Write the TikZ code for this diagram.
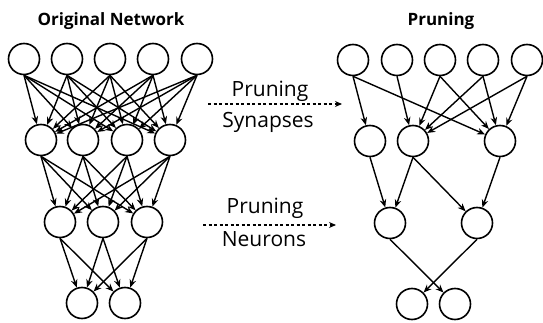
\documentclass[tikz,border=0pt]{standalone}
\usepackage{fontspec}
\setmainfont{Open Sans}
\usetikzlibrary{arrows.meta,positioning}

\begin{document}
\begin{tikzpicture}[x=1pt,y=1pt]
                \tikzstyle{every node}+=[inner sep=0pt]
                \tikzstyle{neuron}=[draw, circle, line width=1.6pt, minimum size=31pt]
                \tikzstyle{syn}=[-{Stealth[length=8pt,width=6.5pt]}, line width=1.4pt]
                \tikzstyle{prune}=[-{Stealth[length=7pt,width=6pt]}, line width=1.3pt, dash pattern=on 3pt off 2.5pt]
                \tikzstyle{headtext}=[anchor=base, font=\bfseries\fontsize{17}{19}\selectfont]
                \tikzstyle{optext}=[anchor=base, font=\fontsize{21}{23}\selectfont]
                \useasboundingbox (0,0) rectangle (543,-323);
                % titles
                \node [headtext] (orig) at (111,-26) {Original Network};
                \node [headtext] (pruned) at (441,-26) {Pruning};
                % original network
                \node [neuron] (a1) at (24,-59) {};
                \node [neuron] (a2) at (67,-59) {};
                \node [neuron] (a3) at (110,-59) {};
                \node [neuron] (a4) at (153,-59) {};
                \node [neuron] (a5) at (197,-59) {};
                \node [neuron] (b1) at (41,-140) {};
                \node [neuron] (b2) at (83,-140) {};
                \node [neuron] (b3) at (127,-140) {};
                \node [neuron] (b4) at (170,-140) {};
                \node [neuron] (c1) at (60,-222) {};
                \node [neuron] (c2) at (103,-222) {};
                \node [neuron] (c3) at (147,-222) {};
                \node [neuron] (d1) at (82,-303) {};
                \node [neuron] (d2) at (125,-303) {};
                \draw [syn] (a1.south) -- (b1); \draw [syn] (a1.south) -- (b2); \draw [syn] (a1.south) -- (b3); \draw [syn] (a1.south) -- (b4);
                \draw [syn] (a2.south) -- (b1); \draw [syn] (a2.south) -- (b2); \draw [syn] (a2.south) -- (b3); \draw [syn] (a2.south) -- (b4);
                \draw [syn] (a3.south) -- (b1); \draw [syn] (a3.south) -- (b2); \draw [syn] (a3.south) -- (b3); \draw [syn] (a3.south) -- (b4);
                \draw [syn] (a4.south) -- (b1); \draw [syn] (a4.south) -- (b2); \draw [syn] (a4.south) -- (b3); \draw [syn] (a4.south) -- (b4);
                \draw [syn] (a5.south) -- (b1); \draw [syn] (a5.south) -- (b2); \draw [syn] (a5.south) -- (b3); \draw [syn] (a5.south) -- (b4);
                \draw [syn] (b1.south) -- (c1); \draw [syn] (b1.south) -- (c2); \draw [syn] (b1.south) -- (c3);
                \draw [syn] (b2.south) -- (c1); \draw [syn] (b2.south) -- (c2); \draw [syn] (b2.south) -- (c3);
                \draw [syn] (b3.south) -- (c1); \draw [syn] (b3.south) -- (c2); \draw [syn] (b3.south) -- (c3);
                \draw [syn] (b4.south) -- (c1); \draw [syn] (b4.south) -- (c2); \draw [syn] (b4.south) -- (c3);
                \draw [syn] (c1.south) -- (d1); \draw [syn] (c1.south) -- (d2);
                \draw [syn] (c2.south) -- (d1); \draw [syn] (c2.south) -- (d2);
                \draw [syn] (c3.south) -- (d1); \draw [syn] (c3.south) -- (d2);
                % pruned network
                \node [neuron] (p1) at (353,-60) {};
                \node [neuron] (p2) at (397,-60) {};
                \node [neuron] (p3) at (440,-60) {};
                \node [neuron] (p4) at (483,-60) {};
                \node [neuron] (p5) at (527,-60) {};
                \node [neuron] (q1) at (370,-141) {};
                \node [neuron] (q2) at (413,-141) {};
                \node [neuron] (q3) at (500,-141) {};
                \node [neuron] (r1) at (390,-223) {};
                \node [neuron] (r2) at (477,-223) {};
                \node [neuron] (s1) at (412,-304) {};
                \node [neuron] (s2) at (455,-304) {};
                \draw [syn] (p1.south) -- (q1); \draw [syn] (p1.south) -- (q3);
                \draw [syn] (p2.south) -- (q2);
                \draw [syn] (p3.south) -- (q2); \draw [syn] (p3.south) -- (q3);
                \draw [syn] (p4.south) -- (q2); \draw [syn] (p4.south) -- (q3);
                \draw [syn] (p5.south) -- (q2); \draw [syn] (p5.south) -- (q3);
                \draw [syn] (q1.south) -- (r1);
                \draw [syn] (q2.south) -- (r1); \draw [syn] (q2.south) -- (r2);
                \draw [syn] (q3.south) -- (r2);
                \draw [syn] (r1.south) -- (s2);
                \draw [syn] (r2.south) -- (s1);
                % pruning steps
                \coordinate (synfrom) at (208,-104);
                \coordinate (synto) at (342,-104);
                \draw [prune] (synfrom) -- (synto);
                \node [optext] (synup) at (270,-97) {Pruning};
                \node [optext] (syndown) at (268,-128) {Synapses};
                \coordinate (neufrom) at (203,-225);
                \coordinate (neuto) at (336,-225);
                \draw [prune] (neufrom) -- (neuto);
                \node [optext] (neuup) at (265,-213) {Pruning};
                \node [optext] (neudown) at (264,-246) {Neurons};
\end{tikzpicture}
\end{document}
